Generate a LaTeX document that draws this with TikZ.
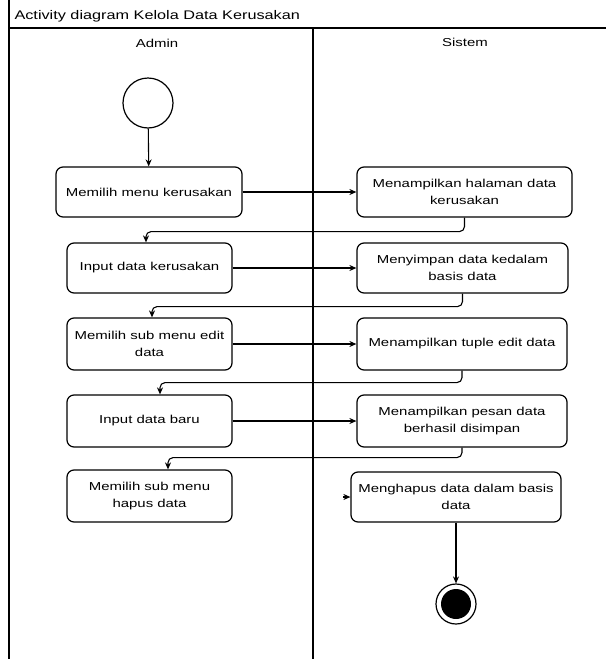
\documentclass[tikz,border=0pt]{standalone}
\usepackage{fontspec}
\setmainfont{Liberation Sans}[FakeStretch=1.3]
\usetikzlibrary{arrows.meta}

\tikzset{
  act/.style={draw, line width=1.2pt, rounded corners=7pt, align=center,
    minimum height=50pt, inner sep=2pt,
    font=\fontsize{11.5}{17}\selectfont},
  flow/.style={line width=1.1pt, rounded corners=5pt, -{Stealth[length=7pt,width=6pt]}},
  lane/.style={line width=1.2pt}
}

\begin{document}
\begin{tikzpicture}[x=1pt,y=-1pt]
\useasboundingbox (0,0) rectangle (606,659);

% swimlanes
\draw[lane] (9,0) -- (9,659);
\draw[lane] (9,28) -- (606,28);
\draw[lane] (313,28) -- (313,659);
\node[anchor=west, font=\fontsize{12.5}{14}\selectfont] (title) at (11,16) {Activity diagram Kelola Data Kerusakan};
\node[font=\fontsize{11.5}{14}\selectfont] (admin) at (157,43) {Admin};
\node[font=\fontsize{11.5}{14}\selectfont] (sistem) at (465,42) {Sistem};

% start and end
\node[draw, circle, line width=1.2pt, minimum size=50pt] (start) at (148,103) {};
\node[draw, circle, line width=1.2pt, minimum size=40pt] (end) at (456,604) {};
\fill (end) circle (15pt);

% Admin
\node[act, minimum width=186pt] (a1) at (149,192) {Memilih menu kerusakan};
\node[act, minimum width=165pt] (a2) at (149.5,268) {Input data kerusakan};
\node[act, minimum width=165pt, minimum height=52pt] (a3) at (149.5,344) {Memilih sub menu edit\\data};
\node[act, minimum width=165pt, minimum height=52pt] (a4) at (149.5,421) {Input data baru};
\node[act, minimum width=165pt, minimum height=52pt] (a5) at (149.5,496) {Memilih sub menu\\hapus data};

% Sistem
\node[act, minimum width=215pt] (s1) at (464.5,192) {Menampilkan halaman data\\kerusakan};
\node[act, minimum width=211pt] (s2) at (462.5,268) {Menyimpan data kedalam\\basis data};
\node[act, minimum width=210pt, minimum height=52pt] (s3) at (462,344) {Menampilkan tuple edit data};
\node[act, minimum width=210pt, minimum height=52pt] (s4) at (462,421) {Menampilkan pesan data\\berhasil disimpan};
\node[act, minimum width=210pt] (s5) at (456,497) {Menghapus data dalam basis\\data};
\coordinate (s5in) at ([xshift=-7pt]s5.west);

\draw[flow] (start) -- (a1);
\foreach \from/\to in {a1/s1,a2/s2,a3/s3,a4/s4}
\draw[flow] (\from) -- (\to);
\foreach \from/\to/\dy/\dx in {s1/a2/14/-3.5,s2/a3/13/2.5,s3/a4/12/10.5,s4/a5/10/18.5}
\draw[flow] (\from.south) -- ++(0,\dy) -| ([xshift=\dx pt]\to.north);
\draw[flow] (s5in) -- (s5.west);
\draw[flow] (s5) -- (end);
\end{tikzpicture}
\end{document}
